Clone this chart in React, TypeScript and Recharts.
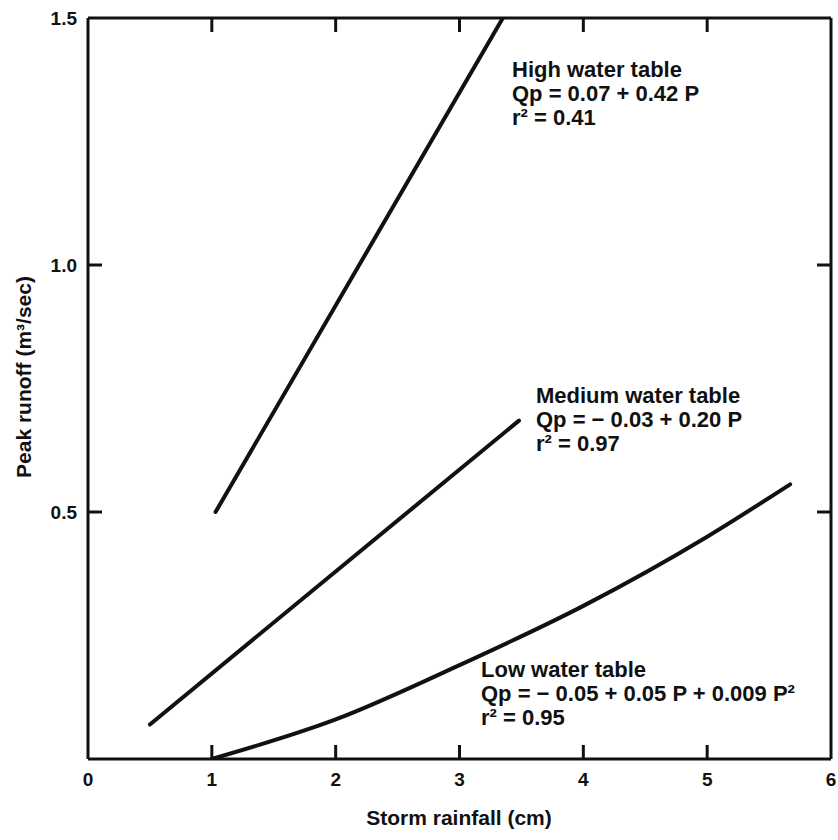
import { Line, LineChart, XAxis, YAxis } from "recharts";

// storm rainfall P (cm) vs peak runoff Qp (m3/sec)
const highP = [1.03, 3.35];
const highQ = [0.5, 1.5];

const mediumP = [0.5, 3.48];
const mediumQ = [0.07, 0.685];

const lowP = [1.0, 2.0, 3.0, 4.0, 5.0, 5.67];
const lowQ = [0.0, 0.08, 0.19, 0.31, 0.45, 0.556];

const xTicks = [0, 1, 2, 3, 4, 5, 6];
const xInnerTicks = [1, 2, 3, 4, 5];
const yTicks = [0.5, 1.0, 1.5];
const yInnerTicks = [0.5, 1.0];

const toRows = (p: number[], q: number[]) => p.map((v, i) => ({ p: v, q: q[i] }));
const highData = toRows(highP, highQ);
const mediumData = toRows(mediumP, mediumQ);
const lowData = toRows(lowP, lowQ);

const FONT = '"Liberation Sans", Arial, Helvetica, sans-serif';
const INK = "#111";
const TICK = 14;

const frame = { stroke: INK, strokeWidth: 3 };

// tick marks point inward, drawn by hand since recharts only draws them outward
function BottomTick({ x, y, payload }: any) {
  const v = Number(payload.value);
  return (
    <g>
      {v > 0 && v < 6 ? <path d={`M${x},${y}L${x},${y - TICK}`} stroke={INK} strokeWidth={3} /> : null}
      <text x={x} y={y + 27} textAnchor="middle" fontSize={19} fontWeight="bold" fill={INK} fontFamily={FONT}>
        {v}
      </text>
    </g>
  );
}

function TopTick({ x, y }: any) {
  return <path d={`M${x},${y}L${x},${y + TICK}`} stroke={INK} strokeWidth={3} />;
}

function LeftTick({ x, y, payload }: any) {
  const v = Number(payload.value);
  return (
    <g>
      {v < 1.5 ? <path d={`M${x},${y}L${x + TICK},${y}`} stroke={INK} strokeWidth={3} /> : null}
      <text x={x - 11} y={y + 7} textAnchor="end" fontSize={19} fontWeight="bold" fill={INK} fontFamily={FONT}>
        {v.toFixed(1)}
      </text>
    </g>
  );
}

function RightTick({ x, y }: any) {
  return <path d={`M${x},${y}L${x - TICK},${y}`} stroke={INK} strokeWidth={3} />;
}

const noteStyle: React.CSSProperties = {
  position: "absolute",
  fontFamily: FONT,
  fontSize: 22,
  fontWeight: "bold",
  lineHeight: "24px",
  color: INK,
  whiteSpace: "nowrap",
};

const titleStyle: React.CSSProperties = {
  position: "absolute",
  fontFamily: FONT,
  fontSize: 21,
  fontWeight: "bold",
  color: INK,
  whiteSpace: "nowrap",
};

export default function App() {
  return (
    <div style={{ position: "absolute", left: 0, top: 0, width: 838, height: 840, background: "#fff" }}>
      <LineChart width={838} height={840} margin={{ top: 17, right: 6, bottom: 51, left: 0 }}>
        <XAxis
          xAxisId="bottom"
          type="number"
          dataKey="p"
          domain={[0, 6]}
          ticks={xTicks}
          height={30}
          tickSize={0}
          tickMargin={0}
          tickLine={false}
          axisLine={frame}
          tick={<BottomTick />}
          allowDataOverflow
        />
        <XAxis
          xAxisId="top"
          orientation="top"
          type="number"
          dataKey="p"
          domain={[0, 6]}
          ticks={xInnerTicks}
          height={1}
          tickSize={0}
          tickMargin={0}
          tickLine={false}
          axisLine={frame}
          tick={<TopTick />}
          allowDataOverflow
        />
        <YAxis
          yAxisId="left"
          type="number"
          domain={[0, 1.5]}
          ticks={yTicks}
          width={88}
          tickSize={0}
          tickMargin={0}
          tickLine={false}
          axisLine={frame}
          tick={<LeftTick />}
          allowDataOverflow
        />
        <YAxis
          yAxisId="right"
          orientation="right"
          type="number"
          domain={[0, 1.5]}
          ticks={yInnerTicks}
          width={1}
          tickSize={0}
          tickMargin={0}
          tickLine={false}
          axisLine={frame}
          tick={<RightTick />}
          allowDataOverflow
        />
        <Line
          data={highData}
          xAxisId="bottom"
          yAxisId="left"
          dataKey="q"
          type="linear"
          stroke={INK}
          strokeWidth={4}
          strokeLinecap="round"
          dot={false}
          isAnimationActive={false}
        />
        <Line
          data={mediumData}
          xAxisId="bottom"
          yAxisId="left"
          dataKey="q"
          type="linear"
          stroke={INK}
          strokeWidth={4}
          strokeLinecap="round"
          dot={false}
          isAnimationActive={false}
        />
        <Line
          data={lowData}
          xAxisId="bottom"
          yAxisId="left"
          dataKey="q"
          type="monotone"
          stroke={INK}
          strokeWidth={4}
          strokeLinecap="round"
          dot={false}
          isAnimationActive={false}
        />
        {/* keeps the mirrored top/right frame axes alive */}
        <Line
          data={highData}
          xAxisId="top"
          yAxisId="right"
          dataKey="q"
          stroke="none"
          dot={false}
          activeDot={false}
          isAnimationActive={false}
        />
      </LineChart>

      <div style={{ ...noteStyle, left: 512, top: 58 }}>
        <div>High water table</div>
        <div>Qp = 0.07 + 0.42 P</div>
        <div>r² = 0.41</div>
      </div>
      <div style={{ ...noteStyle, left: 536, top: 384 }}>
        <div>Medium water table</div>
        <div>Qp = − 0.03 + 0.20 P</div>
        <div>r² = 0.97</div>
      </div>
      <div style={{ ...noteStyle, left: 481, top: 658 }}>
        <div>Low water table</div>
        <div>Qp = − 0.05 + 0.05 P + 0.009 P²</div>
        <div>r² = 0.95</div>
      </div>

      <div style={{ ...titleStyle, left: 459, top: 818, transform: "translate(-50%, -50%)" }}>
        Storm rainfall (cm)
      </div>
      <div style={{ ...titleStyle, left: 24, top: 377, transform: "translate(-50%, -50%) rotate(-90deg)" }}>
        Peak runoff (m³/sec)
      </div>
    </div>
  );
}
